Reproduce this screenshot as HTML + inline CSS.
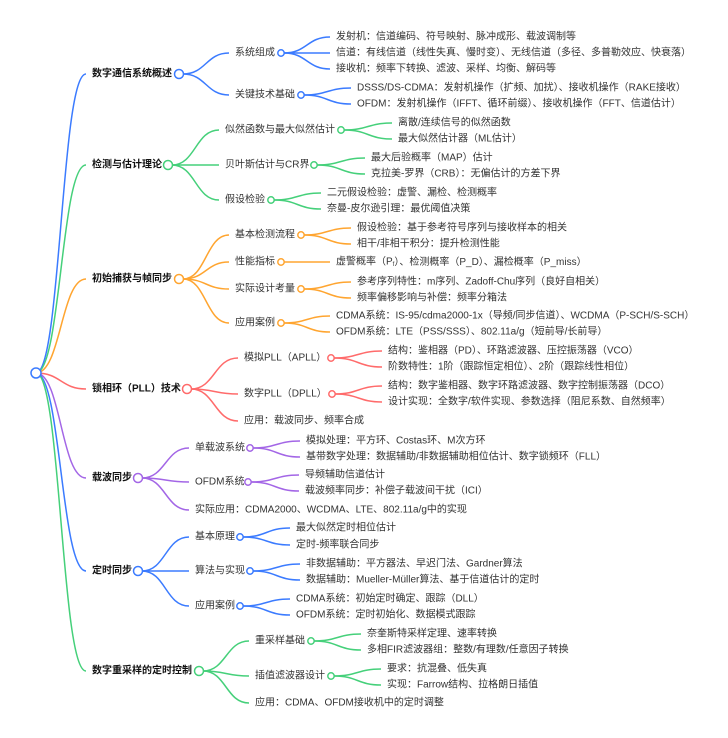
<!DOCTYPE html>
<html><head><meta charset="utf-8"><style>
html,body{margin:0;padding:0;background:#fff;}
svg{display:block;}
text{font-family:"Liberation Sans","Noto Sans CJK SC",sans-serif;font-size:10px;fill:#333;dominant-baseline:central;}
.b{font-weight:bold;font-size:10px;fill:#111;}
</style></head><body>
<svg id="s" width="728" height="738" viewBox="0 0 728 738" xmlns="http://www.w3.org/2000/svg">
<g id="lines" fill="none" stroke-width="1.5"></g>
<g>
<text class="b" x="92" y="74">数字通信系统概述</text>
<text class="b" x="92" y="165">检测与估计理论</text>
<text class="b" x="92" y="279">初始捕获与帧同步</text>
<text class="b" x="92" y="389">锁相环（PLL）技术</text>
<text class="b" x="92" y="478">载波同步</text>
<text class="b" x="92" y="571">定时同步</text>
<text class="b" x="92" y="671">数字重采样的定时控制</text>

<text x="235" y="53">系统组成</text>
<text x="235" y="95">关键技术基础</text>
<text x="336" y="37">发射机：信道编码、符号映射、脉冲成形、载波调制等</text>
<text x="336" y="53">信道：有线信道（线性失真、慢时变）、无线信道（多径、多普勒效应、快衰落）</text>
<text x="336" y="69">接收机：频率下转换、滤波、采样、均衡、解码等</text>
<text x="357" y="88">DSSS/DS-CDMA：发射机操作（扩频、加扰）、接收机操作（RAKE接收）</text>
<text x="357" y="104">OFDM：发射机操作（IFFT、循环前缀）、接收机操作（FFT、信道估计）</text>

<text x="225" y="130">似然函数与最大似然估计</text>
<text x="225" y="165">贝叶斯估计与CR界</text>
<text x="225" y="200">假设检验</text>
<text x="398" y="123">离散/连续信号的似然函数</text>
<text x="398" y="139">最大似然估计器（ML估计）</text>
<text x="371" y="158">最大后验概率（MAP）估计</text>
<text x="371" y="174">克拉美-罗界（CRB）：无偏估计的方差下界</text>
<text x="327" y="193">二元假设检验：虚警、漏检、检测概率</text>
<text x="327" y="209">奈曼-皮尔逊引理：最优阈值决策</text>

<text x="235" y="235">基本检测流程</text>
<text x="235" y="262">性能指标</text>
<text x="235" y="289">实际设计考量</text>
<text x="235" y="323">应用案例</text>
<text x="357" y="228">假设检验：基于参考符号序列与接收样本的相关</text>
<text x="357" y="244">相干/非相干积分：提升检测性能</text>
<text x="336" y="262">虚警概率（P<tspan font-size="6" dy="3">f</tspan><tspan dy="-3">）、检测概率（P_D）、漏检概率（P_miss）</tspan></text>
<text x="357" y="282">参考序列特性：m序列、Zadoff-Chu序列（良好自相关）</text>
<text x="357" y="298">频率偏移影响与补偿：频率分箱法</text>
<text x="336" y="316">CDMA系统：IS-95/cdma2000-1x（导频/同步信道）、WCDMA（P-SCH/S-SCH）</text>
<text x="336" y="332">OFDM系统：LTE（PSS/SSS）、802.11a/g（短前导/长前导）</text>

<text x="244" y="358">模拟PLL（APLL）</text>
<text x="244" y="394">数字PLL（DPLL）</text>
<text x="244" y="421">应用：载波同步、频率合成</text>
<text x="388" y="351">结构：鉴相器（PD）、环路滤波器、压控振荡器（VCO）</text>
<text x="388" y="367">阶数特性：1阶（跟踪恒定相位）、2阶（跟踪线性相位）</text>
<text x="388" y="386">结构：数字鉴相器、数字环路滤波器、数字控制振荡器（DCO）</text>
<text x="388" y="402">设计实现：全数字/软件实现、参数选择（阻尼系数、自然频率）</text>

<text x="195" y="448">单载波系统</text>
<text x="195" y="482">OFDM系统</text>
<text x="195" y="510">实际应用：CDMA2000、WCDMA、LTE、802.11a/g中的实现</text>
<text x="306" y="441">模拟处理：平方环、Costas环、M次方环</text>
<text x="306" y="457">基带数字处理：数据辅助/非数据辅助相位估计、数字锁频环（FLL）</text>
<text x="305" y="475">导频辅助信道估计</text>
<text x="305" y="491">载波频率同步：补偿子载波间干扰（ICI）</text>

<text x="195" y="537">基本原理</text>
<text x="195" y="571">算法与实现</text>
<text x="195" y="606">应用案例</text>
<text x="296" y="528">最大似然定时相位估计</text>
<text x="296" y="545">定时-频率联合同步</text>
<text x="306" y="564">非数据辅助：平方器法、早迟门法、Gardner算法</text>
<text x="306" y="580">数据辅助：Mueller-Müller算法、基于信道估计的定时</text>
<text x="296" y="599">CDMA系统：初始定时确定、跟踪（DLL）</text>
<text x="296" y="615">OFDM系统：定时初始化、数据模式跟踪</text>

<text x="255" y="641">重采样基础</text>
<text x="255" y="676">插值滤波器设计</text>
<text x="255" y="703">应用：CDMA、OFDM接收机中的定时调整</text>
<text x="367" y="634">奈奎斯特采样定理、速率转换</text>
<text x="367" y="650">多相FIR滤波器组：整数/有理数/任意因子转换</text>
<text x="387" y="669">要求：抗混叠、低失真</text>
<text x="387" y="685">实现：Farrow结构、拉格朗日插值</text>
</g>
<g id="dots" fill="#fff" stroke-width="1.5"></g>
<script>
(function(){
var NS="http://www.w3.org/2000/svg",L=document.getElementById("lines"),D=document.getElementById("dots");
function ln(x0,y0,x1,y1,c){var p=document.createElementNS(NS,"path");var m=(x0+x1)/2;
p.setAttribute("d","M"+x0+" "+y0+"C"+m+" "+y0+" "+m+" "+y1+" "+x1+" "+y1);p.setAttribute("stroke",c);L.appendChild(p);}
function dot(x,y,r,c){var e=document.createElementNS(NS,"circle");e.setAttribute("cx",x);e.setAttribute("cy",y);e.setAttribute("r",r);e.setAttribute("stroke",c);D.appendChild(e);}
var B="#3b7bff",G="#45d07a",O="#ffa530",R="#ff6b6b",P="#a366e6";
var g=[
[74,179,B,[[53,281,[37,53,69],336],[95,301,[88,104],357]]],
[165,168,G,[[130,341,[123,139],398],[165,314,[158,174],371],[200,271,[193,209],327]]],
[279,179,O,[[235,301,[228,244],357],[262,281,[262],336],[289,301,[282,298],357],[323,281,[316,332],336]]],
[389,187,R,[[358,331,[351,367],388],[394,332,[386,402],388],[421,0]]],
[478,138,P,[[448,250,[441,457],306],[482,248,[475,491],305],[510,0]]],
[571,138,B,[[537,240,[528,545],296],[571,250,[564,580],306],[606,240,[599,615],296]]],
[671,199,G,[[641,311,[634,650],367],[676,331,[669,685],387],[703,0]]]
];
var l2x={0:229,1:219,2:229,3:238,4:189,5:189,6:249};
g.forEach(function(a,i){
 ln(36,373,86,a[0],a[2]);
 a[3].forEach(function(b){
  ln(a[1]+4,a[0],l2x[i],b[0],a[2]);
  if(b[1]){b[2].forEach(function(y){ln(b[1]+3,b[0],b[3]-6,y,a[2]);});dot(b[1],b[0],3.2,a[2]);}
 });
 dot(a[1],a[0],4.5,a[2]);
});
dot(36,373,5,B);
})();
</script>
</svg>
</body></html>
